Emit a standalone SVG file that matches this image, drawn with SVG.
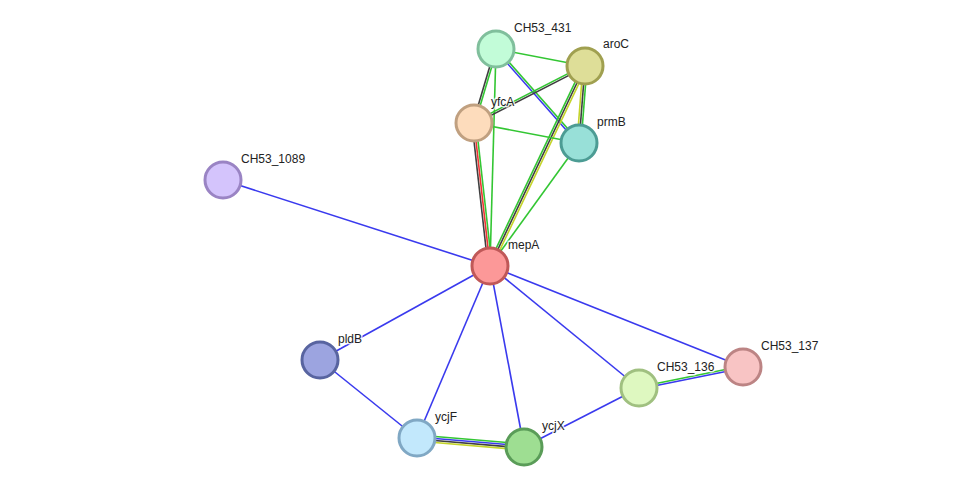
<svg xmlns="http://www.w3.org/2000/svg" width="975" height="493" viewBox="0 0 975 493">
<style>
.e{fill:none;stroke-width:1.6}
.g{stroke:#33c633}
.b{stroke:#3a3aee}
.k{stroke:#3f3f3f}
.r{stroke:#ee3333}
.y{stroke:#c4d42a}
.n{stroke-width:3}
text{font-family:"Liberation Sans",Arial,sans-serif;font-size:12px;fill:#222;stroke:#fff;stroke-width:3;stroke-opacity:0.8;paint-order:stroke;stroke-linejoin:round}
</style>
<rect width="975" height="493" fill="#fff"/>
<g id="edges">
<line class="e g" x1="496" y1="49" x2="585" y2="66"/>
<line class="e k" x1="495.04" y1="48.71" x2="473.04" y2="122.71"/>
<line class="e g" x1="496.96" y1="49.29" x2="474.96" y2="123.29"/>
<line class="e g" x1="496" y1="49" x2="490" y2="266"/>
<line class="e b" x1="495.25" y1="49.66" x2="578.25" y2="143.66"/>
<line class="e g" x1="496.75" y1="48.34" x2="579.75" y2="142.34"/>
<line class="e g" x1="584.54" y1="65.11" x2="473.54" y2="122.11"/>
<line class="e k" x1="585.46" y1="66.89" x2="474.46" y2="123.89"/>
<line class="e y" x1="583" y1="65.84" x2="577" y2="142.84"/>
<line class="e k" x1="585" y1="66" x2="579" y2="143"/>
<line class="e g" x1="587" y1="66.16" x2="581" y2="143.16"/>
<line class="e g" x1="583.19" y1="65.14" x2="488.19" y2="265.14"/>
<line class="e k" x1="585" y1="66" x2="490" y2="266"/>
<line class="e y" x1="586.81" y1="66.86" x2="491.81" y2="266.86"/>
<line class="e g" x1="474" y1="123" x2="579" y2="143"/>
<line class="e k" x1="472.01" y1="123.22" x2="488.01" y2="266.22"/>
<line class="e r" x1="474" y1="123" x2="490" y2="266"/>
<line class="e g" x1="475.99" y1="122.78" x2="491.99" y2="265.78"/>
<line class="e g" x1="579" y1="143" x2="490" y2="266"/>
<line class="e b" x1="223" y1="180" x2="490" y2="266"/>
<line class="e b" x1="320" y1="360" x2="490" y2="266"/>
<line class="e b" x1="417" y1="438" x2="490" y2="266"/>
<line class="e b" x1="524" y1="447" x2="490" y2="266"/>
<line class="e b" x1="639" y1="388" x2="490" y2="266"/>
<line class="e b" x1="743" y1="367" x2="490" y2="266"/>
<line class="e b" x1="320" y1="360" x2="417" y2="438"/>
<line class="e g" x1="417.25" y1="435.01" x2="524.25" y2="444.01"/>
<line class="e b" x1="417.08" y1="437" x2="524.08" y2="446"/>
<line class="e k" x1="416.92" y1="439" x2="523.92" y2="448"/>
<line class="e y" x1="416.75" y1="440.99" x2="523.75" y2="449.99"/>
<line class="e b" x1="524" y1="447" x2="639" y2="388"/>
<line class="e g" x1="638.8" y1="387.02" x2="742.8" y2="366.02"/>
<line class="e b" x1="639.2" y1="388.98" x2="743.2" y2="367.98"/>
</g>
<g id="CH53_431"><circle class="n" cx="496" cy="49" r="18" fill="#c2fcd8" stroke="#80bf9c"/><text x="514" y="32">CH53_431</text></g>
<g id="aroC"><circle class="n" cx="585" cy="66" r="18" fill="#dede98" stroke="#a0a050"/><text x="603" y="48">aroC</text></g>
<g id="yfcA"><circle class="n" cx="474" cy="123" r="18" fill="#fddcbc" stroke="#c0a080"/><text x="491" y="106">yfcA</text></g>
<g id="prmB"><circle class="n" cx="579" cy="143" r="18" fill="#98e0d8" stroke="#4c9c94"/><text x="597" y="126">prmB</text></g>
<g id="CH53_1089"><circle class="n" cx="223" cy="180" r="18" fill="#d4c4fc" stroke="#9a84c4"/><text x="241" y="163">CH53_1089</text></g>
<g id="mepA"><circle class="n" cx="490" cy="266" r="18" fill="#fc9898" stroke="#c05858"/><text x="508" y="249">mepA</text></g>
<g id="pldB"><circle class="n" cx="320" cy="360" r="18" fill="#9ca4e0" stroke="#5864a0"/><text x="338" y="343">pldB</text></g>
<g id="ycjF"><circle class="n" cx="417" cy="438" r="18" fill="#c2e8fc" stroke="#80a8c4"/><text x="435" y="421">ycjF</text></g>
<g id="ycjX"><circle class="n" cx="524" cy="447" r="18" fill="#9ede92" stroke="#5a9c58"/><text x="542" y="430">ycjX</text></g>
<g id="CH53_136"><circle class="n" cx="639" cy="388" r="18" fill="#def8c0" stroke="#a0c080"/><text x="657" y="371">CH53_136</text></g>
<g id="CH53_137"><circle class="n" cx="743" cy="367" r="18" fill="#f8c4c4" stroke="#bc8484"/><text x="761" y="350">CH53_137</text></g>
</svg>
